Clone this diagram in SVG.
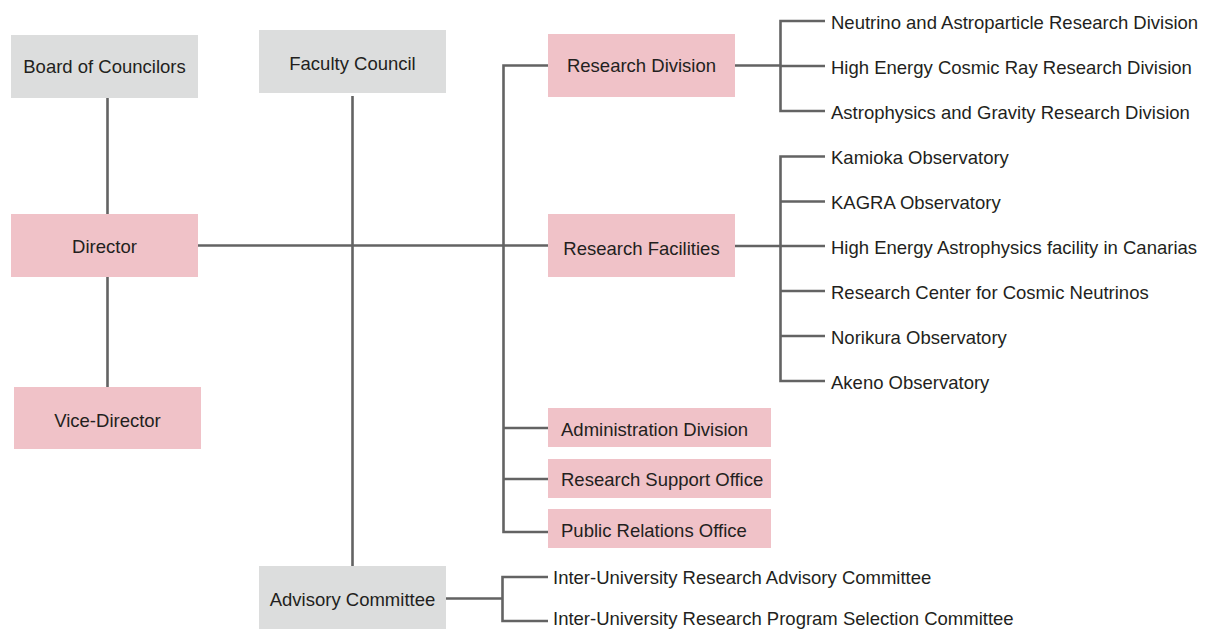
<svg xmlns="http://www.w3.org/2000/svg" width="1207" height="629" viewBox="0 0 1207 629">
<style>
.g{fill:#dcdddd}
.p{fill:#f0c2c8}
text{font-family:"Liberation Sans",Arial,sans-serif;font-size:18.5px;fill:#231f20}
.c{text-anchor:middle}
#connectors path{fill:none;stroke:#636363;stroke-width:2.6}
</style>
<rect width="1207" height="629" fill="#ffffff"/>
<g id="connectors">
<path d="M107.5 98V214M107.5 277V387"/>
<path d="M352.5 96V566"/>
<path d="M198 245.5H548"/>
<path d="M548 65.5H503.5V532H548M503.5 428H548M503.5 479H548"/>
<path d="M735 65.5H780.5M825 21H780.5V111H825M780.5 66H825"/>
<path d="M735 246H825M825 156.5H780.5V381H825M780.5 201.5H825M780.5 291H825M780.5 336H825"/>
<path d="M446 598.5H502.5M548 577H502.5V621H548"/>
</g>
<g id="board"><rect class="g" x="11" y="35" width="187" height="63"/><text class="c" x="104.5" y="73.3">Board of Councilors</text></g>
<g id="faculty"><rect class="g" x="259" y="30" width="187" height="63"/><text class="c" x="352.5" y="70">Faculty Council</text></g>
<g id="director"><rect class="p" x="11" y="214" width="187" height="63"/><text class="c" x="104.5" y="253.3">Director</text></g>
<g id="vice"><rect class="p" x="14" y="387" width="187" height="62"/><text class="c" x="107.5" y="426.7">Vice-Director</text></g>
<g id="rdiv"><rect class="p" x="548" y="34" width="187" height="63"/><text class="c" x="641.5" y="72.3">Research Division</text></g>
<g id="rfac"><rect class="p" x="548" y="214" width="187" height="63"/><text class="c" x="641.5" y="255.3">Research Facilities</text></g>
<g id="admin"><rect class="p" x="548" y="408" width="223" height="39"/><text x="561" y="436">Administration Division</text></g>
<g id="support"><rect class="p" x="548" y="459" width="223" height="39"/><text x="561" y="486">Research Support Office</text></g>
<g id="pr"><rect class="p" x="548" y="509" width="223" height="39"/><text x="561" y="537.3">Public Relations Office</text></g>
<g id="advisory"><rect class="g" x="259" y="566" width="187" height="63"/><text class="c" x="352.5" y="605.5">Advisory Committee</text></g>
<g id="rdiv-list">
<text x="831" y="28.5">Neutrino and Astroparticle Research Division</text>
<text x="831" y="73.5">High Energy Cosmic Ray Research Division</text>
<text x="831" y="118.5">Astrophysics and Gravity Research Division</text>
</g>
<g id="rfac-list">
<text x="831" y="164">Kamioka Observatory</text>
<text x="831" y="209">KAGRA Observatory</text>
<text x="831" y="253.5">High Energy Astrophysics facility in Canarias</text>
<text x="831" y="298.5">Research Center for Cosmic Neutrinos</text>
<text x="831" y="343.5">Norikura Observatory</text>
<text x="831" y="388.5">Akeno Observatory</text>
</g>
<g id="adv-list">
<text x="553" y="584">Inter-University Research Advisory Committee</text>
<text x="553" y="625">Inter-University Research Program Selection Committee</text>
</g>
</svg>
